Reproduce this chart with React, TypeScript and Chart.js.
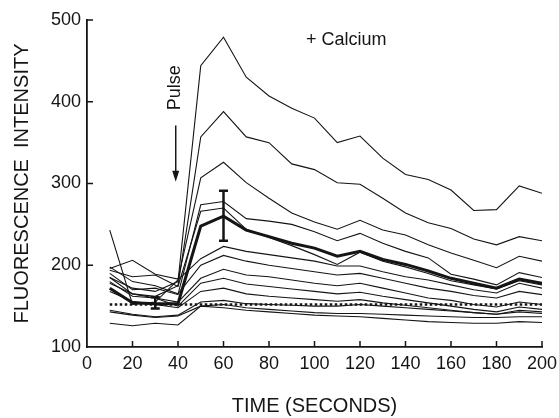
import React, { useEffect, useRef } from "react";
import { Chart, registerables } from "chart.js";

Chart.register(...registerables);

const times = [10, 20, 30, 40, 50, 60, 70, 80, 90, 100, 110, 120, 130, 140, 150, 160, 170, 180, 190, 200];

const cellA = [185, 172, 168, 180, 444, 479, 430, 407, 392, 380, 350, 358, 331, 311, 305, 292, 267, 268, 297, 288];
const cellB = [178, 165, 162, 175, 357, 388, 357, 350, 324, 317, 301, 299, 282, 264, 252, 245, 232, 225, 235, 230];
const cellC = [196, 206, 189, 183, 307, 326, 301, 282, 264, 253, 244, 255, 243, 237, 225, 215, 206, 197, 211, 205];
const cellE = [190, 170, 172, 164, 274, 278, 257, 254, 250, 241, 230, 239, 227, 217, 209, 189, 183, 176, 191, 185];
const cellF = [194, 186, 188, 174, 266, 270, 244, 234, 224, 213, 201, 216, 205, 198, 190, 181, 176, 171, 181, 176];
const cellG = [243, 152, 155, 182, 208, 223, 217, 213, 209, 205, 199, 199, 192, 186, 182, 176, 170, 166, 178, 172];
const cellH = [198, 180, 175, 165, 200, 212, 205, 200, 196, 192, 188, 190, 184, 178, 172, 168, 163, 160, 168, 164];
const cellI = [185, 165, 160, 155, 184, 195, 188, 186, 182, 178, 175, 178, 172, 166, 160, 157, 152, 149, 155, 152];
const cellJ = [180, 162, 160, 150, 178, 184, 177, 174, 171, 168, 165, 167, 162, 158, 154, 150, 146, 143, 149, 146];
const cellK = [168, 156, 152, 148, 168, 172, 165, 162, 160, 158, 156, 158, 154, 151, 148, 145, 142, 140, 145, 143];
const cellL = [145, 140, 137, 139, 155, 157, 153, 152, 151, 150, 150, 152, 150, 148, 146, 144, 142, 140, 143, 141];
const cellM = [143, 139, 136, 138, 150, 152, 148, 146, 144, 142, 141, 141, 140, 139, 138, 137, 136, 136, 137, 137];
const cellN = [129, 126, 129, 127, 150, 148, 145, 143, 141, 139, 138, 137, 135, 133, 131, 130, 129, 129, 131, 130];
const meanTrace = [172, 154, 153, 153, 248, 260, 243, 235, 227, 221, 211, 217, 207, 201, 193, 184, 178, 172, 183, 178];
const baseline = [152, 152, 152, 152, 152, 152, 152, 152, 152, 152, 152, 152, 152, 152, 152, 152, 152, 152, 152, 152];

// error bars on the mean trace
const errTimes = [30, 60];
const errLow = [147, 230];
const errHigh = [161, 291];

const xTickValues = [20, 40, 60, 80, 100, 120, 140, 160, 180, 200];
const yTickValues = [200, 300, 400, 500];

const calciumLabel = { t: 114, v: 476, text: "+ Calcium" };
const pulseLabel = { t: 38.5, v: 417, text: "Pulse" };
const pulseArrow = { t: 39, from: 371, to: 302 };

const FONT = "'Liberation Sans', Arial, Helvetica, sans-serif";
const INK = "#151515";

const thinCells = [cellA, cellB, cellC, cellE, cellF, cellG, cellH, cellI, cellJ, cellK, cellL, cellM, cellN];

const overlayPlugin = {
  id: "overlay",
  afterDatasetsDraw(chart: any) {
    const { ctx } = chart;
    const x = chart.scales.x;
    const y = chart.scales.y;
    ctx.save();
    ctx.strokeStyle = INK;
    ctx.fillStyle = INK;
    ctx.lineWidth = 1.5;
    ctx.beginPath();
    yTickValues.forEach((v) => {
      const py = y.getPixelForValue(v);
      ctx.moveTo(x.left, py);
      ctx.lineTo(x.left + 6, py);
    });
    xTickValues.forEach((t) => {
      const px = x.getPixelForValue(t);
      ctx.moveTo(px, y.bottom);
      ctx.lineTo(px, y.bottom - 6);
    });
    ctx.stroke();
    ctx.lineWidth = 2.5;
    errTimes.forEach((t, i) => {
      const px = x.getPixelForValue(t);
      const pl = y.getPixelForValue(errLow[i]);
      const ph = y.getPixelForValue(errHigh[i]);
      const cap = 4.5;
      ctx.beginPath();
      ctx.moveTo(px, pl);
      ctx.lineTo(px, ph);
      ctx.moveTo(px - cap, pl);
      ctx.lineTo(px + cap, pl);
      ctx.moveTo(px - cap, ph);
      ctx.lineTo(px + cap, ph);
      ctx.stroke();
    });
    const ax = x.getPixelForValue(pulseArrow.t);
    const ay1 = y.getPixelForValue(pulseArrow.from);
    const ay2 = y.getPixelForValue(pulseArrow.to);
    ctx.lineWidth = 1.5;
    ctx.beginPath();
    ctx.moveTo(ax, ay1);
    ctx.lineTo(ax, ay2 - 8);
    ctx.stroke();
    ctx.beginPath();
    ctx.moveTo(ax - 3.5, ay2 - 11);
    ctx.lineTo(ax + 3.5, ay2 - 11);
    ctx.lineTo(ax, ay2);
    ctx.closePath();
    ctx.fill();
    ctx.font = `18px ${FONT}`;
    ctx.textAlign = "center";
    ctx.textBaseline = "middle";
    ctx.fillText(calciumLabel.text, x.getPixelForValue(calciumLabel.t), y.getPixelForValue(calciumLabel.v));
    ctx.save();
    ctx.translate(x.getPixelForValue(pulseLabel.t), y.getPixelForValue(pulseLabel.v));
    ctx.rotate(-Math.PI / 2);
    ctx.fillText(pulseLabel.text, 0, 0);
    ctx.restore();
    ctx.restore();
  },
};

export default function App() {
  const ref = useRef<HTMLCanvasElement | null>(null);
  useEffect(() => {
    if (!ref.current) return;
    const datasets: any[] = thinCells.map((d, i) => ({
      label: "cell " + (i + 1),
      data: times.map((t, j) => ({ x: t, y: d[j] })),
      borderColor: INK,
      borderWidth: 1.1,
      pointRadius: 0,
      tension: 0,
      fill: false,
    }));
    datasets.push({
      label: "mean",
      data: times.map((t, j) => ({ x: t, y: meanTrace[j] })),
      borderColor: INK,
      borderWidth: 3,
      pointRadius: 0,
      tension: 0,
      fill: false,
    });
    datasets.push({
      label: "baseline",
      data: times.map((t, j) => ({ x: t, y: baseline[j] })),
      borderColor: INK,
      borderWidth: 2.5,
      borderDash: [2.5, 2.5],
      pointRadius: 0,
      tension: 0,
      fill: false,
    });
    const chart = new Chart(ref.current, {
      type: "line",
      data: { datasets },
      options: {
        responsive: false,
        animation: false,
        layout: { padding: { top: 20, right: 0, left: 0, bottom: 0 } },
        plugins: { legend: { display: false }, tooltip: { enabled: false } },
        scales: {
          x: {
            type: "linear",
            min: 0,
            max: 200,
            afterFit: (s: any) => {
              s.height = 71;
              s.paddingRight = 17;
            },
            ticks: {
              stepSize: 20,
              color: INK,
              padding: 6,
              maxRotation: 0,
              font: { family: FONT, size: 18 },
            },
            grid: { display: false, drawTicks: false },
            border: { display: true, color: INK, width: 1.8 },
            title: {
              display: true,
              text: "TIME (SECONDS)",
              color: INK,
              font: { family: FONT, size: 20 },
              padding: { top: 14, bottom: 0 },
            },
          },
          y: {
            type: "linear",
            min: 100,
            max: 500,
            afterFit: (s: any) => {
              s.width = 87;
            },
            ticks: {
              stepSize: 100,
              color: INK,
              padding: 6,
              font: { family: FONT, size: 18 },
            },
            grid: { display: false, drawTicks: false },
            border: { display: true, color: INK, width: 1.8 },
            title: {
              display: true,
              text: "FLUORESCENCE  INTENSITY",
              color: INK,
              font: { family: FONT, size: 20 },
              padding: { top: 10, bottom: 0 },
            },
          },
        },
      },
      plugins: [overlayPlugin],
    });
    return () => chart.destroy();
  }, []);
  return (
    <div style={{ position: "fixed", left: 0, top: 0, width: 559, height: 418, background: "#fff" }}>
      <canvas ref={ref} width={559} height={418} />
    </div>
  );
}
